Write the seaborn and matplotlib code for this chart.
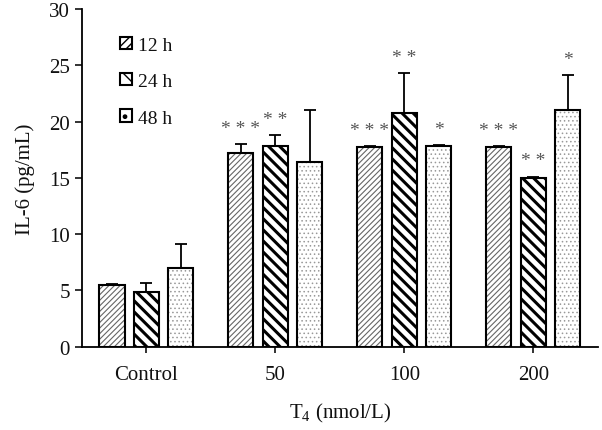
import matplotlib
matplotlib.use("Agg")
import matplotlib.pyplot as plt
from matplotlib.patches import Patch, Rectangle
import pandas as pd
import seaborn as sns

groups = ["Control", "50", "100", "200"]
times = ["12 h", "24 h", "48 h"]
mean_12 = [5.5, 17.2, 17.7, 17.7]
mean_24 = [4.9, 17.8, 20.8, 15.0]
mean_48 = [7.0, 16.4, 17.8, 21.0]
sd_12 = [0.1, 0.8, 0.1, 0.1]
sd_24 = [0.75, 1.0, 3.5, 0.1]
sd_48 = [2.1, 4.6, 0.1, 3.1]
stars_12 = ["", "***", "***", "***"]
stars_24 = ["", "**", "**", "**"]
stars_48 = ["", "", "*", "*"]

sns.set_theme(style="white")
plt.rcParams["font.family"] = ["Liberation Serif", "DejaVu Serif"]
plt.rcParams["mathtext.fontset"] = "custom"
plt.rcParams["mathtext.rm"] = "Liberation Serif"
plt.rcParams["hatch.linewidth"] = 1.0
for key in ["text.color", "axes.labelcolor", "xtick.color", "ytick.color"]:
    plt.rcParams[key] = "#111111"

df = pd.DataFrame({
    "group": groups * 3,
    "time": [t for t in times for _ in groups],
    "value": mean_12 + mean_24 + mean_48,
})
sds = [sd_12, sd_24, sd_48]
stars = [stars_12, stars_24, stars_48]
hatches = ["//////", "\\\\\\", "...."]
hatch_cols = ["#666666", "black", "#999999"]
hatch_lw = [0.8, 2.2, 0.6]

fig = plt.figure(figsize=(6.02, 4.31), dpi=100)
ax = fig.add_axes([0.136, 0.193, 0.857, 0.784])

sns.barplot(data=df, x="group", y="value", hue="time", order=groups,
            hue_order=times, errorbar=None, width=0.8, gap=0.27,
            palette=["white"] * 3, legend=False, ax=ax)

bar_sets = list(ax.containers)
for k, cont in enumerate(bar_sets):
    xs, tops = [], []
    for p in cont.patches:
        p.set_facecolor("white")
        p.set_hatch(hatches[k])
        p.set_edgecolor(hatch_cols[k])
        p.set_linewidth(0)
        if hasattr(p, "set_hatch_linewidth"):
            p.set_hatch_linewidth(hatch_lw[k])
        ax.add_patch(Rectangle(p.get_xy(), p.get_width(), p.get_height(),
                               fill=False, ec="black", lw=1.5, zorder=3))
        xs.append(p.get_x() + p.get_width() / 2)
        tops.append(p.get_height())
    ax.errorbar(xs, tops, yerr=[[0] * len(tops), sds[k]], fmt="none",
                ecolor="black", elinewidth=1.3, capsize=4, capthick=1.3, zorder=2)
    for x, t, s, lab in zip(xs, tops, sds[k], stars[k]):
        if lab:
            ax.text(x, t + s + 1.4, " ".join(lab), ha="center", va="center",
                    fontsize=14, color="#555555")

ax.set_ylim(0, 30)
ax.set_xlim(-0.5, 3.5)
ax.set_yticks(range(0, 31, 5))
ax.set_ylabel("IL-6 (pg/mL)", fontsize=15, labelpad=10)
ax.set_xlabel("T$_4$ (nmol/L)", fontsize=15, labelpad=12)
ax.tick_params(axis="y", direction="out", length=5, width=1.2, labelsize=15, left=True)
ax.tick_params(axis="x", direction="out", length=4, width=1.2, labelsize=15, bottom=True, pad=9)
for side in ["top", "right"]:
    ax.spines[side].set_visible(False)
for side in ["left", "bottom"]:
    ax.spines[side].set_color("black")
    ax.spines[side].set_linewidth(1.3)

handles = [Patch(facecolor="white", edgecolor="black", hatch=h, lw=1.5) for h in ["////", "\\\\", "."]]
ax.legend(handles, times, loc="upper left", bbox_to_anchor=(0.04, 0.97),
          frameon=False, fontsize=14, handlelength=0.6, handleheight=0.6,
          handletextpad=0.3, labelspacing=1.0)

fig.savefig("out.png", dpi=100)
